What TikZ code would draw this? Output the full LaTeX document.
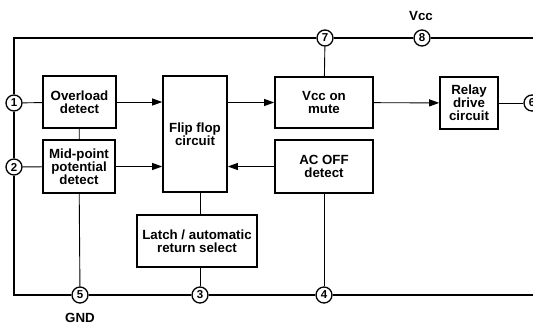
\documentclass[tikz,border=0pt]{standalone}
\usepackage{fontspec}
\setmainfont{Liberation Sans}
\usetikzlibrary{arrows.meta,positioning,calc}

\begin{document}
\begin{tikzpicture}[
  x=1pt, y=-1pt,
  font=\fontsize{13.3}{13}\selectfont\bfseries,
  block/.style={draw, line width=1.6pt, align=center, inner sep=1pt},
  pin/.style={draw, circle, line width=1.3pt, fill=white, minimum size=16pt, inner sep=0pt, font=\fontsize{11.5}{11.5}\selectfont\bfseries},
  rail/.style={line width=1.8pt},
  wire/.style={line width=0.9pt},
  arrow/.style={line width=0.9pt, -{Triangle[length=10pt, width=7pt]}}
]
  \useasboundingbox (0,0) rectangle (533,325);

  % blocks
  \node[block, minimum width=73pt, minimum height=52pt] (ovl) at (79.5,102) {Overload\\detect};
  \node[block, minimum width=72pt, minimum height=53pt] (mid) at (79,166.5) {Mid-point\\potential\\detect};
  \node[block, minimum width=64pt, minimum height=116pt] (ff) at (195,134) {Flip flop\\circuit};
  \node[block, minimum width=120pt, minimum height=52pt] (latch) at (197,241) {Latch / automatic\\return select};
  \node[block, minimum width=98pt, minimum height=51pt] (vmute) at (324,102.5) {Vcc on\\mute};
  \node[block, minimum width=98pt, minimum height=53pt] (acoff) at (324,166.5) {AC OFF\\detect};
  \node[block, minimum width=58pt, minimum height=52pt] (relay) at (469,103) {Relay\\drive\\circuit};

  % pins
  \node[pin] (p1) at (14,103) {1};
  \node[pin] (p2) at (14,167) {2};
  \node[pin] (p5) at (80,295) {5};
  \node[pin] (p3) at (200,295) {3};
  \node[pin] (p4) at (324,295) {4};
  \node[pin] (p7) at (325,38) {7};
  \node[pin] (p8) at (422,38) {8};
  \node[pin] (p6) at (532,103) {6};
  \coordinate (tl) at (14,38);
  \coordinate (bl) at (14,295);
  \coordinate (tr) at (545,38);
  \coordinate (br) at (545,295);

  \node (vcc) at (421,16) {Vcc};
  \node (gnd) at (80,318) {GND};

  % supply rails
  \draw[rail] (p7) -- (tl) -- (p1);
  \draw[rail] (p1) -- (p2);
  \draw[rail] (p2) -- (bl) -- (p5);
  \draw[rail] (p5) -- (p3);
  \draw[rail] (p3) -- (p4);
  \draw[rail] (p4) -- (br);
  \draw[rail] (p7) -- (p8);
  \draw[rail] (p8) -- (tr);

  % connections
  \draw[wire] (p1) -- (ovl);
  \draw[wire] (p2) -- (mid);
  \draw[wire] (ovl) -- (mid);
  \draw[wire] (mid) -- (p5);
  \draw[wire] (p7) -- (vmute);
  \draw[wire] (acoff) -- (p4);
  \draw[wire] (ff.south -| p3) -- (latch.north -| p3);
  \draw[wire] (latch.south -| p3) -- (p3);
  \draw[wire] (relay) -- (p6);
  \draw[arrow] (ovl.east) -- (ovl.east -| ff.west);
  \draw[arrow] (mid.east) -- (mid.east -| ff.west);
  \draw[arrow] (ff.east |- vmute) -- (vmute.west);
  \draw[arrow] (acoff.west) -- (acoff.west -| ff.east);
  \draw[arrow] (vmute) -- (relay);
\end{tikzpicture}
\end{document}
